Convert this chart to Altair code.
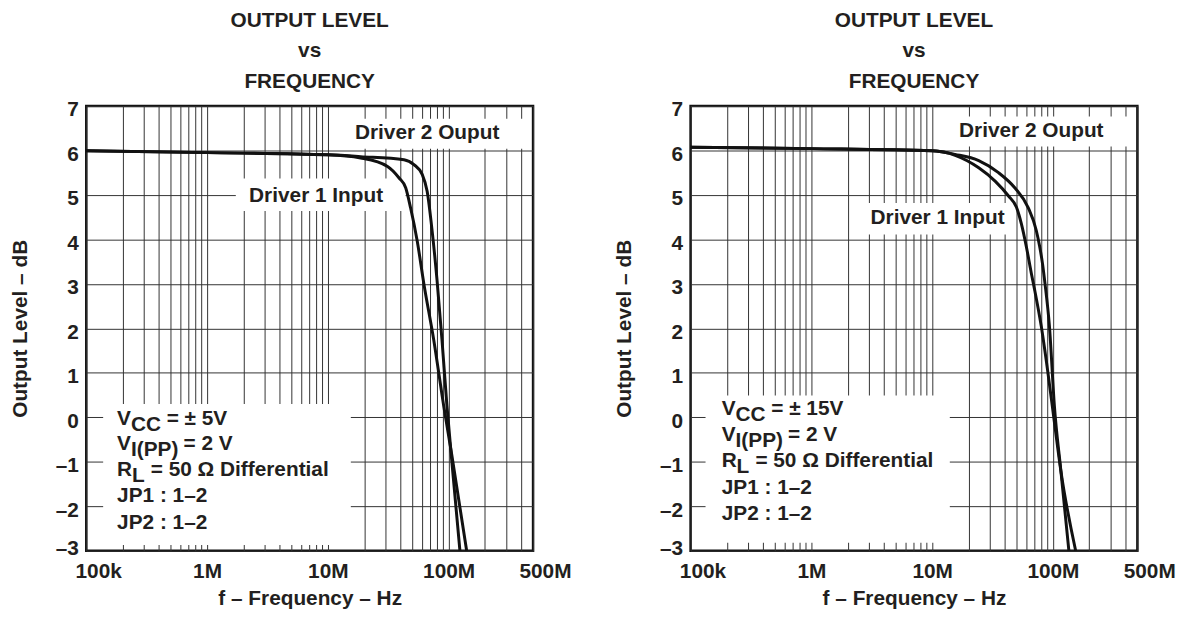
import altair as alt
import pandas as pd

FONT = "Liberation Sans"
INK = "#231f20"
FS = 21

# ---------------- text ----------------
TITLE_LINES = ["OUTPUT LEVEL", "vs", "FREQUENCY"]
X_TITLE = "f – Frequency – Hz"
Y_TITLE = "Output Level – dB"
SERIES = ["Driver 1 Input", "Driver 2 Ouput"]

# ---------------- axes ----------------
X_DOMAIN = [100000, 500000000]
Y_DOMAIN = [-3, 7]
X_GRID = [100000, 200000, 300000, 400000, 500000, 600000, 700000, 800000, 900000,
          1000000, 2000000, 3000000, 4000000, 5000000, 6000000, 7000000, 8000000, 9000000,
          10000000, 20000000, 30000000, 40000000, 50000000, 60000000, 70000000, 80000000, 90000000,
          100000000, 200000000, 300000000, 400000000, 500000000]
X_LABEL_VALUES = [100000, 1000000, 10000000, 100000000, 500000000]
X_LABEL_TEXT = ["100k", "1M", "10M", "100M", "500M"]
Y_TICKS = [-3, -2, -1, 0, 1, 2, 3, 4, 5, 6, 7]

# ---------------- left panel: VCC = ±5 V ----------------
L_D1_FREQ = [1e5, 1e6, 1e7, 1.87e7, 3.12e7, 3.89e7, 4.41e7, 4.84e7, 5.49e7, 6.23e7, 7.53e7, 9.1e7, 1.064e8, 1.41e8]
L_D1_DB = [5.99, 5.95, 5.90, 5.83, 5.64, 5.38, 5.16, 4.71, 3.97, 3.01, 1.74, 0.26, -0.86, -3.0]
L_D2_FREQ = [1e5, 1e6, 1e7, 1.87e7, 4.27e7, 5.16e7, 6.04e7, 6.64e7, 7.3e7, 8.02e7, 8.81e7, 9.68e7, 1.094e8, 1.24e8]
L_D2_DB = [5.99, 5.95, 5.90, 5.86, 5.79, 5.68, 5.46, 5.08, 4.19, 3.08, 1.74, 0.26, -1.37, -3.0]
L_NOTE = [["V", "CC", "= ± 5V"], ["V", "I(PP)", "= 2 V"], ["R", "L", "= 50 Ω Differential"],
          ["JP1 : 1–2"], ["JP2 : 1–2"]]

# ---------------- right panel: VCC = ±15 V ----------------
R_D1_FREQ = [1e5, 1e6, 1e7, 1.55e7, 2.43e7, 3.32e7, 4.27e7, 4.99e7, 5.48e7, 6.03e7, 6.62e7, 7.05e7, 8.0e7, 9.07e7, 1.027e8, 1.164e8, 1.542e8]
R_D1_DB = [6.07, 6.04, 5.99, 5.89, 5.61, 5.31, 4.98, 4.72, 4.35, 3.83, 3.24, 2.87, 2.05, 1.02, -0.10, -1.21, -3.0]
R_D2_FREQ = [1e5, 1e6, 1e7, 1.55e7, 2.43e7, 3.54e7, 4.83e7, 6.22e7, 7.28e7, 7.75e7, 8.2e7, 8.6e7, 9.35e7, 1.027e8, 1.164e8, 1.355e8]
R_D2_DB = [6.07, 6.04, 5.99, 5.91, 5.77, 5.50, 5.16, 4.72, 4.20, 3.85, 3.45, 3.0, 2.05, 0.27, -1.21, -3.0]
R_NOTE = [["V", "CC", "= ± 15V"], ["V", "I(PP)", "= 2 V"], ["R", "L", "= 50 Ω Differential"],
          ["JP1 : 1–2"], ["JP2 : 1–2"]]

# ---------------- annotation layout (data units) ----------------
LAYOUT = {
    "left": {
        "label_x": [8.0e6, 6.64e7], "label_y": [4.97, 6.38],
        "box_x0": [1.73e6, 1.47e7, 1.38e5], "box_x1": [4.4e7, 4.4e8, 1.55e7],
        "box_y0": [4.64, 6.04, -2.87], "box_y1": [5.37, 6.71, 0.30],
        "note_x": 1.80e5, "note_y": [-0.04, -0.60, -1.18, -1.78, -2.38],
    },
    "right": {
        "label_x": [1.11e7, 6.62e7], "label_y": [4.47, 6.44],
        "box_x0": [2.23e6, 1.34e7, 1.33e5], "box_x1": [4.1e7, 4.4e8, 1.4e7],
        "box_y0": [4.11, 6.09, -2.82], "box_y1": [4.82, 6.76, 0.49],
        "note_x": 1.81e5, "note_y": [0.18, -0.40, -0.98, -1.58, -2.18],
    },
}
# pixel offsets of the pieces of each note line (main, subscript, rest)
SEG_DX = [[0, 14, 50], [0, 14, 67], [0, 15, 34], [0], [0]]
SEG_DY = [0, 6, 0]

label_expr = " : ".join(
    f"datum.value == {v} ? '{t}'" for v, t in zip(X_LABEL_VALUES, X_LABEL_TEXT)
) + " : ''"

AXIS_STYLE = dict(
    grid=True, ticks=False, domain=False, labelOverlap=False, labelFlush=False,
    gridColor="#333333", gridWidth=1, gridOpacity=1,
    labelFont=FONT, labelFontSize=FS, labelFontWeight="bold", labelColor=INK,
    titleFont=FONT, titleFontSize=FS, titleFontWeight="bold", titleColor=INK,
)

X_AXIS = alt.Axis(
    values=X_GRID, labelExpr=label_expr, title=X_TITLE, labelPadding=10,
    labelOffset={"condition": {"test": "datum.value == 100000 || datum.value == 500000000", "value": 12}, "value": 0},
    titlePadding=6, **AXIS_STYLE,
)
Y_AXIS = alt.Axis(
    values=Y_TICKS, labelExpr="datum.value < 0 ? '–' + abs(datum.value) : datum.label",
    title=Y_TITLE, labelPadding=8,
    labelOffset={"condition": {"test": "datum.value == -3", "value": -2}, "value": 4},
    titlePadding=25, **AXIS_STYLE,
)


def X(field):
    return alt.X(field, type="quantitative",
                 scale=alt.Scale(type="log", domain=X_DOMAIN, nice=False), axis=X_AXIS)


def Y(field):
    return alt.Y(field, type="quantitative",
                 scale=alt.Scale(domain=Y_DOMAIN, nice=False, zero=False), axis=Y_AXIS)


def panel(d1f, d1db, d2f, d2db, note, lay):
    curves = pd.concat([
        pd.DataFrame({"freq": d1f, "db": d1db, "series": SERIES[0]}),
        pd.DataFrame({"freq": d2f, "db": d2db, "series": SERIES[1]}),
    ])
    boxes = pd.DataFrame({"x0": lay["box_x0"], "x1": lay["box_x1"],
                          "y0": lay["box_y0"], "y1": lay["box_y1"]})
    labels = pd.DataFrame({"x": lay["label_x"], "y": lay["label_y"], "text": SERIES})

    layers = [
        alt.Chart(boxes).mark_rect(color="white").encode(
            x=X("x0"), x2="x1", y=Y("y0"), y2="y1"),
        alt.Chart(curves).mark_line(color="#111111", strokeWidth=3, interpolate="monotone").encode(
            x=X("freq"), y=Y("db"), detail="series:N"),
        alt.Chart(labels).mark_text(font=FONT, fontSize=FS, fontWeight="bold", color=INK).encode(
            x=X("x"), y=Y("y"), text="text:N"),
    ]
    groups = {}
    for li, pieces in enumerate(note):
        for si, txt in enumerate(pieces):
            key = (SEG_DX[li][si], SEG_DY[si])
            groups.setdefault(key, []).append(
                {"x": lay["note_x"], "y": lay["note_y"][li], "text": txt})
    for (dx, dy), rows in groups.items():
        layers.append(
            alt.Chart(pd.DataFrame(rows)).mark_text(
                font=FONT, fontSize=FS, fontWeight="bold", color=INK,
                align="left", dx=dx, dy=dy).encode(
                x=X("x"), y=Y("y"), text="text:N"))
    return alt.layer(*layers).properties(
        width=451, height=449,
        title=alt.TitleParams(TITLE_LINES, font=FONT, fontSize=FS, fontWeight="bold",
                              color=INK, lineHeight=31, anchor="middle", frame="group",
                              offset=7),
    )


left = panel(L_D1_FREQ, L_D1_DB, L_D2_FREQ, L_D2_DB, L_NOTE, LAYOUT["left"])
right = panel(R_D1_FREQ, R_D1_DB, R_D2_FREQ, R_D2_DB, R_NOTE, LAYOUT["right"])

chart = alt.hconcat(left, right, spacing=40).properties(
    padding={"left": 0, "top": -3, "right": 0, "bottom": 0}
).configure_view(
    stroke="#111111", strokeWidth=2.5
)

chart.save("out.html", embed_options={"renderer": "svg", "actions": False})
